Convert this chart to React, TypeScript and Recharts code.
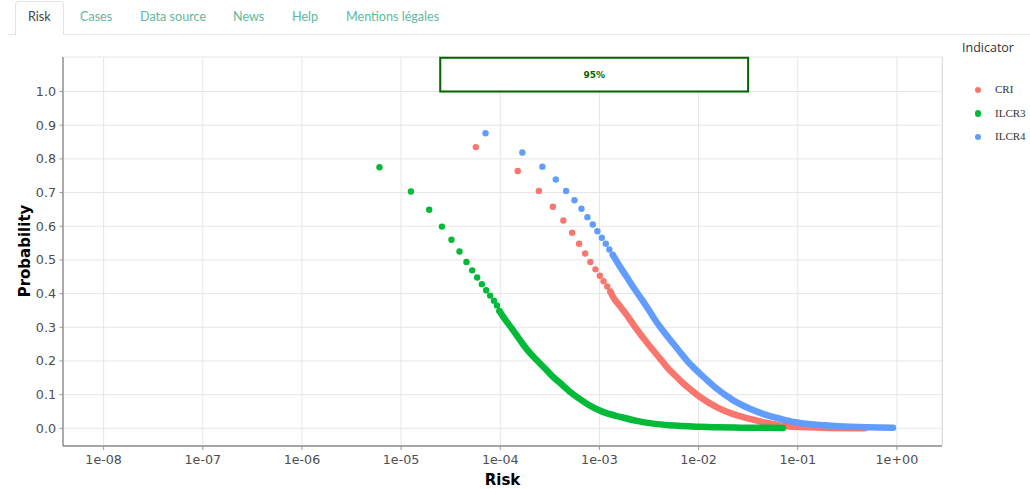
import React from 'react';
import { ComposedChart, Scatter, Line, XAxis, YAxis, CartesianGrid, ReferenceArea } from 'recharts';

// ---- data (risk vs exceedance probability) ----
const CRI_DOTS = [
  { risk: 5.67e-5, prob: 0.835 },
  { risk: 1.5e-4, prob: 0.764 },
  { risk: 2.45e-4, prob: 0.705 },
  { risk: 3.39e-4, prob: 0.658 },
  { risk: 4.33e-4, prob: 0.617 },
  { risk: 5.31e-4, prob: 0.581 },
  { risk: 6.24e-4, prob: 0.548 },
  { risk: 7.18e-4, prob: 0.519 },
  { risk: 8.11e-4, prob: 0.494 },
  { risk: 9.12e-4, prob: 0.472 },
  { risk: 1.01e-3, prob: 0.453 },
  { risk: 1.1e-3, prob: 0.437 },
  { risk: 1.2e-3, prob: 0.421 },
  { risk: 1.29e-3, prob: 0.406 },
];
const CRI_DENSE = [
  { risk: 1.29e-3, prob: 0.406 },
  { risk: 1.38e-3, prob: 0.389 },
  { risk: 1.62e-3, prob: 0.362 },
  { risk: 1.89e-3, prob: 0.336 },
  { risk: 2.2e-3, prob: 0.308 },
  { risk: 2.57e-3, prob: 0.281 },
  { risk: 3.01e-3, prob: 0.255 },
  { risk: 3.5e-3, prob: 0.231 },
  { risk: 4.09e-3, prob: 0.207 },
  { risk: 4.79e-3, prob: 0.182 },
  { risk: 5.8e-3, prob: 0.157 },
  { risk: 7.03e-3, prob: 0.133 },
  { risk: 8.55e-3, prob: 0.112 },
  { risk: 1.035e-2, prob: 0.093 },
  { risk: 1.52e-2, prob: 0.063 },
  { risk: 2.24e-2, prob: 0.042 },
  { risk: 3.3e-2, prob: 0.028 },
  { risk: 4.88e-2, prob: 0.016 },
  { risk: 7.74e-2, prob: 0.006 },
  { risk: 0.168, prob: 0.002 },
  { risk: 0.476, prob: 0.0005 },
];

const ILCR3_DOTS = [
  { risk: 6.05e-6, prob: 0.775 },
  { risk: 1.256e-5, prob: 0.703 },
  { risk: 1.92e-5, prob: 0.649 },
  { risk: 2.58e-5, prob: 0.599 },
  { risk: 3.22e-5, prob: 0.56 },
  { risk: 3.88e-5, prob: 0.525 },
  { risk: 4.56e-5, prob: 0.494 },
  { risk: 5.21e-5, prob: 0.469 },
  { risk: 5.85e-5, prob: 0.448 },
  { risk: 6.52e-5, prob: 0.428 },
  { risk: 7.21e-5, prob: 0.41 },
  { risk: 7.9e-5, prob: 0.394 },
  { risk: 8.63e-5, prob: 0.379 },
  { risk: 9.25e-5, prob: 0.365 },
  { risk: 9.82e-5, prob: 0.348 },
];
const ILCR3_DENSE = [
  { risk: 9.82e-5, prob: 0.348 },
  { risk: 1.076e-4, prob: 0.33 },
  { risk: 1.31e-4, prob: 0.296 },
  { risk: 1.59e-4, prob: 0.261 },
  { risk: 1.92e-4, prob: 0.229 },
  { risk: 2.34e-4, prob: 0.202 },
  { risk: 2.84e-4, prob: 0.177 },
  { risk: 3.43e-4, prob: 0.152 },
  { risk: 4.18e-4, prob: 0.13 },
  { risk: 5.07e-4, prob: 0.108 },
  { risk: 6.14e-4, prob: 0.09 },
  { risk: 7.46e-4, prob: 0.073 },
  { risk: 9.06e-4, prob: 0.059 },
  { risk: 1.1e-3, prob: 0.048 },
  { risk: 1.62e-3, prob: 0.034 },
  { risk: 2.38e-3, prob: 0.022 },
  { risk: 3.5e-3, prob: 0.014 },
  { risk: 5.16e-3, prob: 0.009 },
  { risk: 1.04e-2, prob: 0.0045 },
  { risk: 2.62e-2, prob: 0.002 },
  { risk: 7.1e-2, prob: 0.001 },
];

const ILCR4_DOTS = [
  { risk: 7.1e-5, prob: 0.876 },
  { risk: 1.67e-4, prob: 0.819 },
  { risk: 2.66e-4, prob: 0.777 },
  { risk: 3.63e-4, prob: 0.739 },
  { risk: 4.61e-4, prob: 0.705 },
  { risk: 5.6e-4, prob: 0.677 },
  { risk: 6.59e-4, prob: 0.652 },
  { risk: 7.57e-4, prob: 0.627 },
  { risk: 8.57e-4, prob: 0.605 },
  { risk: 9.55e-4, prob: 0.585 },
  { risk: 1.057e-3, prob: 0.566 },
  { risk: 1.16e-3, prob: 0.548 },
  { risk: 1.26e-3, prob: 0.531 },
  { risk: 1.365e-3, prob: 0.515 },
];
const ILCR4_DENSE = [
  { risk: 1.365e-3, prob: 0.515 },
  { risk: 1.62e-3, prob: 0.479 },
  { risk: 1.89e-3, prob: 0.449 },
  { risk: 2.2e-3, prob: 0.419 },
  { risk: 2.57e-3, prob: 0.39 },
  { risk: 3.01e-3, prob: 0.36 },
  { risk: 3.5e-3, prob: 0.33 },
  { risk: 4.09e-3, prob: 0.301 },
  { risk: 4.79e-3, prob: 0.275 },
  { risk: 5.57e-3, prob: 0.251 },
  { risk: 6.52e-3, prob: 0.226 },
  { risk: 7.6e-3, prob: 0.202 },
  { risk: 8.87e-3, prob: 0.181 },
  { risk: 1.035e-2, prob: 0.162 },
  { risk: 1.26e-2, prob: 0.139 },
  { risk: 1.52e-2, prob: 0.118 },
  { risk: 2.24e-2, prob: 0.083 },
  { risk: 3.3e-2, prob: 0.058 },
  { risk: 4.88e-2, prob: 0.039 },
  { risk: 7.16e-2, prob: 0.026 },
  { risk: 0.1054, prob: 0.016 },
  { risk: 0.188, prob: 0.009 },
  { risk: 0.336, prob: 0.0045 },
  { risk: 0.914, prob: 0.002 },
];

const X_TICKS = [1e-8, 1e-7, 1e-6, 1e-5, 1e-4, 1e-3, 1e-2, 1e-1, 1];
const Y_TICKS = [0, 0.1, 0.2, 0.3, 0.4, 0.5, 0.6, 0.7, 0.8, 0.9, 1.0];
const BAND = { x1: 2.48e-5, x2: 0.0316, y1: 1.0, y2: 1.1, label: '95%' };
const TABS = ['Risk', 'Cases', 'Data source', 'News', 'Help', 'Mentions légales'];
const TAB_X = [28, 80, 140, 233, 292, 346];
const SERIES = [
  { name: 'CRI', color: '#F8766D', dots: CRI_DOTS, dense: CRI_DENSE },
  { name: 'ILCR3', color: '#00BA38', dots: ILCR3_DOTS, dense: ILCR3_DENSE },
  { name: 'ILCR4', color: '#619CFF', dots: ILCR4_DOTS, dense: ILCR4_DENSE },
];

const X_DOMAIN = [Math.pow(10, -8.41), Math.pow(10, 0.455)];
const Y_DOMAIN = [-0.0525, 1.1025];

const fmtX = (v: number) => {
  const e = Math.round(Math.log10(v));
  return '1e' + (e < 0 ? '-' : '+') + String(Math.abs(e)).padStart(2, '0');
};

const tickStyle = { fill: '#4d4d4d', fontSize: 12.7, fontFamily: 'DejaVu Sans' };

export default function App() {
  return (
    <div style={{ position: 'absolute', left: 0, top: 0, width: 1030, height: 489, background: '#fff', overflow: 'hidden' }}>
      {/* tabs */}
      <div style={{ position: 'absolute', left: 8, right: 0, top: 34, height: 1, background: '#e8e8e8' }} />
      <div style={{ position: 'absolute', left: 15, top: 1, width: 49, height: 34, border: '1px solid #e2e2e2', borderBottom: 'none', borderRadius: '4px 4px 0 0', background: '#fff', boxSizing: 'border-box' }} />
      {TABS.map((t, i) => (
        <div key={t} style={{ position: 'absolute', left: TAB_X[i], top: 9, fontFamily: 'Lato', fontSize: 12.6, lineHeight: '16px', color: i === 0 ? '#444' : '#5cb99f', whiteSpace: 'nowrap' }}>{t}</div>
      ))}

      <div style={{ position: 'absolute', left: 0, top: 0 }}>
        <ComposedChart width={1030} height={489} margin={{ top: 57, right: 88, bottom: 13, left: 13 }}>
          <CartesianGrid stroke="#e6e6e6" strokeWidth={1} />
          <XAxis
            type="number"
            dataKey="risk"
            scale="log"
            domain={X_DOMAIN}
            allowDataOverflow
            ticks={X_TICKS}
            interval={0}
            tickFormatter={fmtX}
            height={30}
            tickSize={4}
            tickMargin={5}
            tick={tickStyle}
            axisLine={{ stroke: '#8c8c8c', strokeWidth: 1.4 }}
            tickLine={{ stroke: '#999' }}
          />
          <YAxis
            type="number"
            dataKey="prob"
            domain={Y_DOMAIN}
            allowDataOverflow
            ticks={Y_TICKS}
            interval={0}
            tickFormatter={(v: number) => v.toFixed(1)}
            width={50}
            tickSize={3.5}
            tickMargin={3.5}
            tick={tickStyle}
            axisLine={{ stroke: '#8c8c8c', strokeWidth: 1.4 }}
            tickLine={{ stroke: '#999' }}
          />
          <ReferenceArea
            x1={BAND.x1}
            x2={BAND.x2}
            y1={BAND.y1}
            y2={BAND.y2}
            fill="#ffffff"
            fillOpacity={1}
            stroke="#006400"
            strokeWidth={2}
            ifOverflow="visible"
            label={{ value: BAND.label, position: 'center', fill: '#006400', fontSize: 9, fontWeight: 'bold', fontFamily: 'DejaVu Sans' }}
          />
          {SERIES.map((s) => [
            <Line
              key={s.name + '-dense'}
              data={s.dense}
              dataKey="prob"
              type="monotone"
              stroke={s.color}
              strokeWidth={6.5}
              strokeLinecap="round"
              strokeLinejoin="round"
              dot={false}
              activeDot={false}
              isAnimationActive={false}
              legendType="none"
            />,
            <Scatter
              key={s.name + '-dots'}
              data={s.dots}
              dataKey="prob"
              fill={s.color}
              isAnimationActive={false}
              shape={(p: any) => <circle cx={p.cx} cy={p.cy} r={3.2} fill={s.color} />}
            />,
          ])}
        </ComposedChart>
      </div>

      {/* right panel border */}
      <div style={{ position: 'absolute', left: 941.5, top: 57, width: 1, height: 389, background: '#dedede' }} />

      {/* axis titles */}
      <div style={{ position: 'absolute', left: 502.5, top: 480, transform: 'translate(-50%, -50%)', fontFamily: 'DejaVu Sans', fontWeight: 'bold', fontSize: 15, color: '#000', whiteSpace: 'nowrap' }}>Risk</div>
      <div style={{ position: 'absolute', left: 25, top: 251, transform: 'translate(-50%, -50%) rotate(-90deg)', fontFamily: 'DejaVu Sans', fontWeight: 'bold', fontSize: 15, color: '#000', whiteSpace: 'nowrap' }}>Probability</div>

      {/* legend */}
      <div style={{ position: 'absolute', left: 962, top: 39, fontFamily: 'Open Sans', fontSize: 12.5, lineHeight: '18px', color: '#333', whiteSpace: 'nowrap' }}>Indicator</div>
      {SERIES.map((s, i) => (
        <React.Fragment key={s.name}>
          <div style={{ position: 'absolute', left: 975, top: 86.5 + i * 23.7, width: 6.4, height: 6.4, borderRadius: '50%', background: s.color }} />
          <div style={{ position: 'absolute', left: 995, top: 82 + i * 23.7, fontFamily: 'Liberation Serif', fontSize: 11, lineHeight: '14px', color: '#333', whiteSpace: 'nowrap' }}>{s.name}</div>
        </React.Fragment>
      ))}
    </div>
  );
}
